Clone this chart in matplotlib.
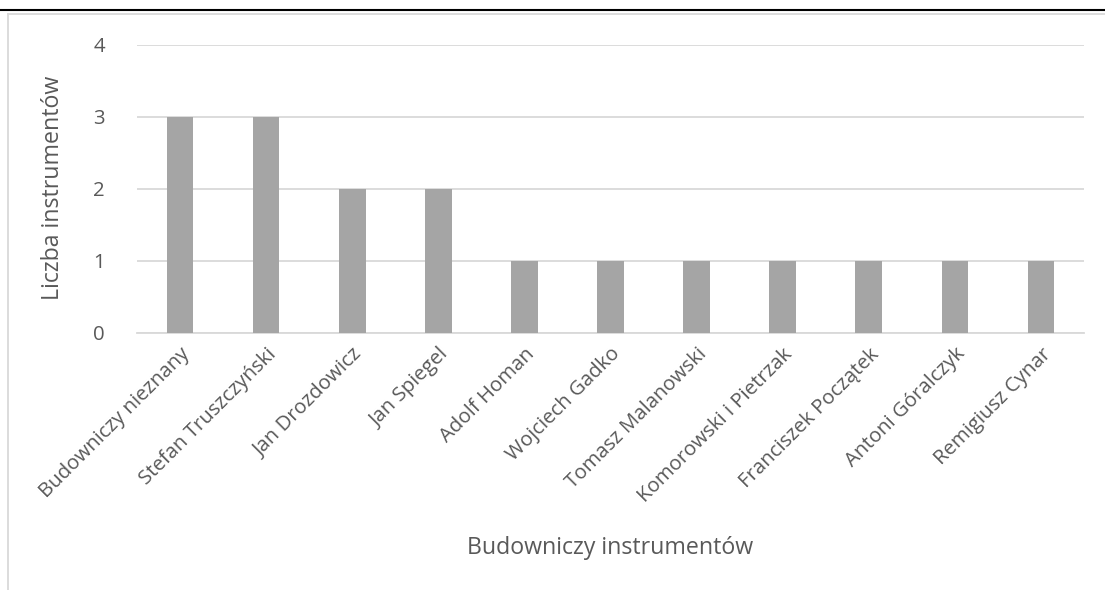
import matplotlib.pyplot as plt
import numpy as np
from matplotlib.lines import Line2D

builders = ['Budowniczy nieznany', 'Stefan Truszczyński', 'Jan Drozdowicz',
            'Jan Spiegel', 'Adolf Homan', 'Wojciech Gadko', 'Tomasz Malanowski',
            'Komorowski i Pietrzak', 'Franciszek Początek', 'Antoni Góralczyk',
            'Remigiusz Cynar']
counts = [3, 3, 2, 2, 1, 1, 1, 1, 1, 1, 1]

plt.rcParams['font.family'] = ['Open Sans', 'DejaVu Sans']
txt = '#595959'

fig = plt.figure(figsize=(11.05, 5.9), dpi=100)
ax = fig.add_axes([137 / 1105, 1 - 333 / 590, (1084 - 137) / 1105, (333 - 45) / 590])

x = np.arange(len(builders))
ax.bar(x, counts, width=0.31, color='#A5A5A5', zorder=3)

ax.set_xlim(-0.5, len(builders) - 0.5)
ax.set_ylim(0, 4)
ax.set_yticks([0, 1, 2, 3, 4])
ax.yaxis.grid(True, color='#D9D9D9', linewidth=1.3, zorder=0)
for s in ['top', 'right', 'left']:
    ax.spines[s].set_visible(False)
ax.spines['bottom'].set_color('#D9D9D9')
ax.spines['bottom'].set_linewidth(1.3)
ax.tick_params(axis='both', length=0, colors=txt, labelsize=14.7)
ax.tick_params(axis='y', pad=23)

ax.set_xticks(x)
ax.set_xticklabels(builders, rotation=45, ha='right', va='top',
                   rotation_mode='anchor', fontsize=14.7, color=txt)
ax.tick_params(axis='x', pad=8)

fig.text(53 / 1105, 1 - 188 / 590, 'Liczba instrumentów', fontsize=16.7,
         color=txt, ha='center', va='center', rotation=90)
fig.text(610 / 1105, 1 - 548 / 590, 'Budowniczy instrumentów', fontsize=16.7,
         color=txt, ha='center', va='center')

# frame of the chart area
fig.add_artist(Line2D([8 / 1105, 8 / 1105], [0, 1 - 14 / 590],
                      transform=fig.transFigure, color='#D9D9D9', linewidth=1.3))
fig.add_artist(Line2D([8 / 1105, 1], [1 - 14 / 590, 1 - 14 / 590],
                      transform=fig.transFigure, color='#D9D9D9', linewidth=1.3))
fig.add_artist(Line2D([0, 1], [1 - 10 / 590, 1 - 10 / 590],
                      transform=fig.transFigure, color='black', linewidth=1.5))

fig.savefig('out.png', dpi=100)
